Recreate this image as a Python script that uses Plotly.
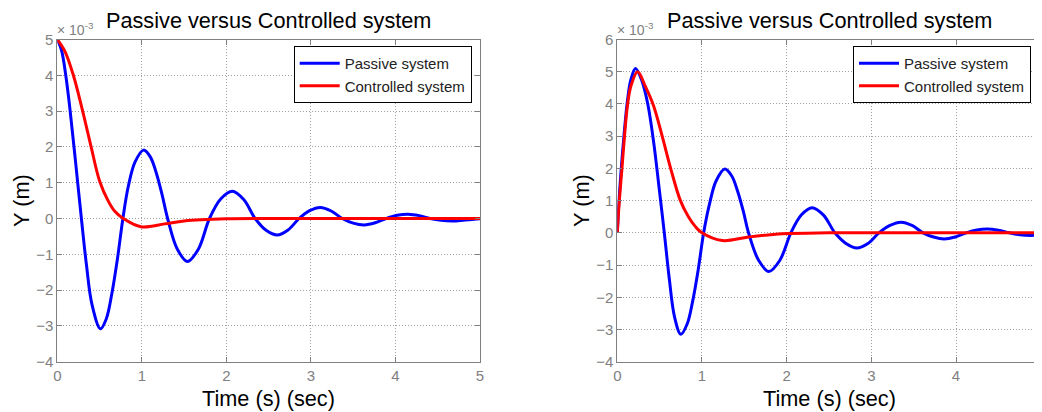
import plotly.graph_objects as go

W, H = 1042, 412
OFF = 8  # the page body has a default 8px margin; positions below are screen pixels

# ---------------- data (values in units of 1e-3 m) ----------------
t_pass_left = [0, 0.05, 0.10, 0.15, 0.215, 0.285, 0.345, 0.41, 0.51, 0.58, 0.645, 0.71,
               0.776, 0.84, 0.92, 1.02, 1.10, 1.17, 1.24, 1.305, 1.42, 1.54, 1.67,
               1.80, 1.935, 2.07, 2.205, 2.34, 2.47, 2.60, 2.73, 2.86, 2.985, 3.11,
               3.24, 3.37, 3.50, 3.63, 3.76, 3.89, 4.02, 4.15, 4.28, 4.41, 4.54,
               4.67, 4.80, 4.93, 5.0]
y_pass_left = [5.0, 4.7, 4.0, 3.05, 1.6, 0.0, -1.3, -2.4, -3.08, -2.8, -2.1, -1.15,
               0.0, 0.9, 1.58, 1.91, 1.72, 1.28, 0.66, 0.0, -0.86, -1.2, -0.85,
               0.0, 0.55, 0.76, 0.53, 0.0, -0.33, -0.46, -0.32, 0.0, 0.22, 0.31,
               0.21, 0.0, -0.13, -0.18, -0.12, 0.0, 0.09, 0.12, 0.08, 0.0, -0.05,
               -0.07, -0.05, -0.02, -0.01]

t_ctrl_left = [0, 0.09, 0.19, 0.30, 0.40, 0.50, 0.60, 0.68, 0.78, 0.99, 1.27, 1.5, 2.0, 2.5, 5.0]
y_ctrl_left = [5.0, 4.67, 4.0, 3.0, 2.0, 1.05, 0.5, 0.2, 0.0, -0.23, -0.15, -0.07, -0.01, 0.0, 0.0]

t_pass_right = [0, 0.02, 0.05, 0.085, 0.12, 0.16, 0.215, 0.29, 0.36, 0.43, 0.49,
                0.555, 0.615, 0.675, 0.75, 0.825, 0.89, 0.955, 1.02, 1.085, 1.165,
                1.27, 1.35, 1.42, 1.49, 1.55, 1.67, 1.79, 1.92, 2.05, 2.175, 2.30,
                2.435, 2.57, 2.70, 2.83, 2.96, 3.09, 3.22, 3.35, 3.48, 3.61, 3.735,
                3.86, 3.99, 4.12, 4.245, 4.37, 4.50, 4.63, 4.755, 4.88, 5.0]
y_pass_right = [0.0, 1.0, 2.1, 3.2, 4.1, 4.75, 5.1, 4.72, 4.0, 2.8, 1.48,
                0.0, -1.45, -2.6, -3.15, -2.83, -2.12, -1.15, 0.0, 0.85, 1.6,
                1.98, 1.77, 1.3, 0.65, 0.0, -0.86, -1.2, -0.85, 0.0, 0.56, 0.78,
                0.55, 0.0, -0.33, -0.47, -0.33, 0.0, 0.23, 0.33, 0.23, 0.0, -0.13,
                -0.19, -0.13, 0.0, 0.09, 0.12, 0.08, 0.0, -0.06, -0.08, -0.06]

t_ctrl_right = [0, 0.024, 0.055, 0.085, 0.12, 0.16, 0.24, 0.33, 0.427, 0.53, 0.63,
                0.745, 0.84, 0.92, 1.0, 1.24, 1.55, 1.95, 2.5, 5.0]
y_ctrl_right = [0.0, 1.0, 2.0, 3.0, 3.95, 4.55, 5.0, 4.55, 3.95, 3.0, 2.0,
                1.0, 0.5, 0.2, 0.0, -0.24, -0.13, -0.03, 0.0, 0.0]

x_ticks = [0, 1, 2, 3, 4, 5]
y_ticks_left = [-4, -3, -2, -1, 0, 1, 2, 3, 4, 5]
y_ticks_right = [-4, -3, -2, -1, 0, 1, 2, 3, 4, 5, 6]

title_text = "Passive versus Controlled system"
x_label = "Time (s) (sec)"
y_label = "Y (m)"
exp_label = "× 10<sup>-3</sup>"
series_names = ["Passive system", "Controlled system"]

# ---------------- figure ----------------
BLUE, RED = "#0000ff", "#ff0000"
FONT = "Liberation Sans, Arial, sans-serif"
GRAY = "#808080"

fig = go.Figure()
fig.add_trace(go.Scatter(x=t_pass_left, y=y_pass_left, mode="lines", name=series_names[0],
                         line=dict(color=BLUE, width=3, shape="spline"),
                         xaxis="x", yaxis="y", legend="legend"))
fig.add_trace(go.Scatter(x=t_ctrl_left, y=y_ctrl_left, mode="lines", name=series_names[1],
                         line=dict(color=RED, width=3, shape="spline"),
                         xaxis="x", yaxis="y", legend="legend"))
fig.add_trace(go.Scatter(x=t_pass_right, y=y_pass_right, mode="lines", name=series_names[0],
                         line=dict(color=BLUE, width=3, shape="spline"),
                         xaxis="x2", yaxis="y2", legend="legend2"))
fig.add_trace(go.Scatter(x=t_ctrl_right, y=y_ctrl_right, mode="lines", name=series_names[1],
                         line=dict(color=RED, width=3, shape="spline"),
                         xaxis="x2", yaxis="y2", legend="legend2"))

# plot-area boxes in screen pixels
L1, R1 = 57.3, 480.0
L2, R2 = 617.3, 1040.7
TOP, BOT = 39.5, 361.7

def px(x):
    return (x - OFF) / W

def py(y):
    return 1 - (y - OFF) / H

axis_common = dict(
    showgrid=True, gridcolor="#a0a0a0", griddash="1px,2px", gridwidth=1,
    showline=True, linecolor=GRAY, linewidth=1, mirror="ticks",
    ticks="inside", ticklen=5, tickcolor=GRAY, tickwidth=1,
    tickfont=dict(family=FONT, size=15, color=GRAY),
    zeroline=False, fixedrange=True, automargin=False,
)

legend_common = dict(
    xanchor="right", yanchor="top",
    bordercolor="black", borderwidth=1, bgcolor="white",
    font=dict(family=FONT, size=15, color="#222"),
    itemwidth=40, tracegroupgap=0,
)

fig.update_layout(
    width=W, height=H,
    margin=dict(l=0, r=0, t=0, b=0, autoexpand=False),
    paper_bgcolor="white", plot_bgcolor="white",
    font=dict(family=FONT),
    xaxis=dict(domain=[px(L1), px(R1)], range=[0, 5], tickvals=x_ticks,
               anchor="y", **axis_common),
    yaxis=dict(domain=[py(BOT), py(TOP)], range=[-4, 5], tickvals=y_ticks_left,
               anchor="x", **axis_common),
    xaxis2=dict(domain=[px(L2), px(R2)], range=[0, 5], tickvals=x_ticks,
                anchor="y2", **axis_common),
    yaxis2=dict(domain=[py(BOT), py(TOP)], range=[-4, 6], tickvals=y_ticks_right,
                anchor="x2", **axis_common),
    legend=dict(x=px(471.7), y=py(46), **legend_common),
    legend2=dict(x=px(1031), y=py(46), **legend_common),
    showlegend=True,
)

annotations = []
for (l, r) in [(L1, R1), (L2, R2)]:
    cx = (l + r) / 2
    annotations.append(dict(text=title_text, x=px(cx), y=py(20.5), xref="paper", yref="paper",
                            xanchor="center", yanchor="middle", showarrow=False,
                            font=dict(family=FONT, size=21.7, color="black")))
    annotations.append(dict(text=x_label, x=px(cx), y=py(398), xref="paper", yref="paper",
                            xanchor="center", yanchor="middle", showarrow=False,
                            font=dict(family=FONT, size=21.7, color="black")))
    annotations.append(dict(text=y_label, x=px(l - 36), y=py((TOP + BOT) / 2), xref="paper",
                            yref="paper", xanchor="center", yanchor="middle", textangle=-90,
                            showarrow=False, font=dict(family=FONT, size=21.7, color="black")))
    annotations.append(dict(text=exp_label, x=px(l - 2), y=py(29), xref="paper", yref="paper",
                            xanchor="left", yanchor="middle", showarrow=False,
                            font=dict(family=FONT, size=14, color=GRAY)))
fig.update_layout(annotations=annotations)

fig.write_html("out.html")
